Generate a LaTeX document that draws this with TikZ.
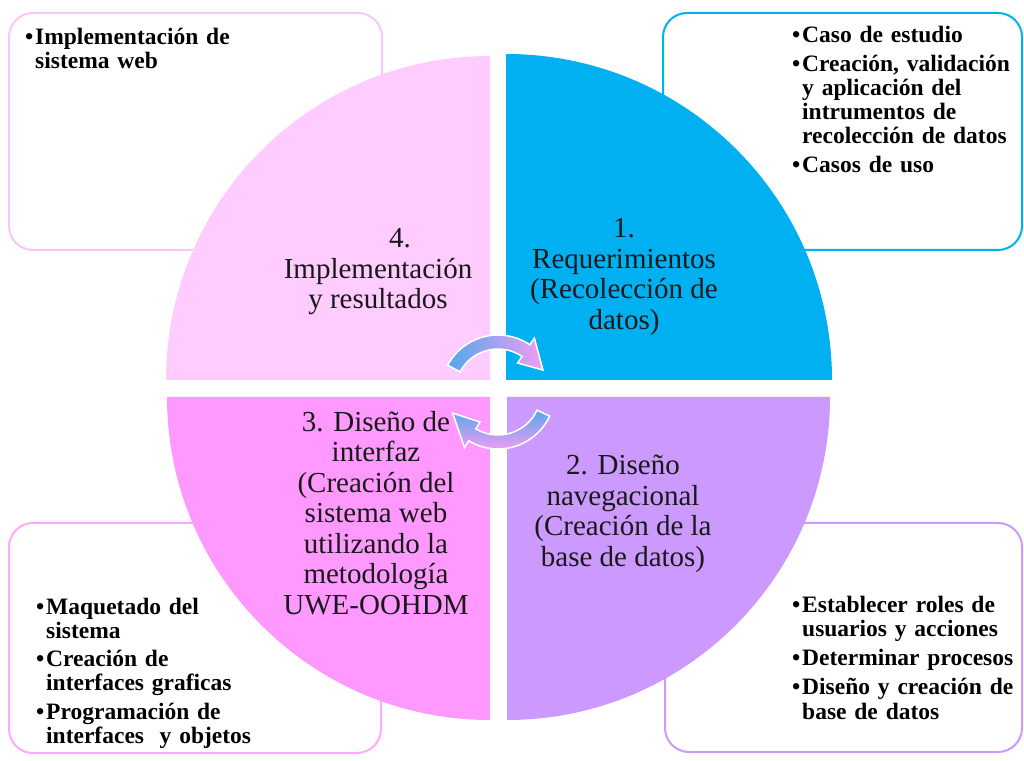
\documentclass[tikz,border=0pt]{standalone}
\usepackage{fontspec}
\setmainfont{Liberation Serif}
\definecolor{cTL}{HTML}{FFCCFF}
\definecolor{cTR}{HTML}{00B0F0}
\definecolor{cBL}{HTML}{FF99FF}
\definecolor{cBR}{HTML}{CC99FF}
\definecolor{cTLb}{HTML}{F8C8F8}
\definecolor{cBLb}{HTML}{FFAAFF}
\definecolor{arrB}{HTML}{55A8EC}
\definecolor{arrP}{HTML}{F09CF2}
\newcommand\bulmark{\makebox[10pt][l]{\textbullet}}
\newcommand\bulind{\hspace*{10pt}}
\begin{document}
\begin{tikzpicture}[x=1pt,y=1pt,
  boxst/.style={rounded corners=24pt, fill=white, line width=2pt},
  bultext/.style={anchor=base west, inner sep=0pt, align=left, text width=260pt,
    font=\fontsize{23.5}{24}\selectfont\bfseries},
  qtext/.style={inner sep=0pt, align=center, text=black!90,
    font=\fontsize{29}{30.5}\selectfont},
  arrowst/.style={draw=white, line width=1.5pt}]
\useasboundingbox (0,0) rectangle (1024,760);
\fill[white] (0,0) rectangle (1024,760);
% side boxes
\draw[boxst, draw=cTLb] (9,510) rectangle (382,747);
\draw[boxst, draw=cTR] (663,510) rectangle (1022,747);
\draw[boxst, draw=cBLb] (9,7) rectangle (381,237);
\draw[boxst, draw=cBR] (665,8) rectangle (1022,237);
% quadrants
\fill[cTL] (490,380) -- (166,380) arc[start angle=180,end angle=90,radius=324] -- cycle;
\fill[cTR] (506,380) -- (506,706) arc[start angle=90,end angle=0,radius=326] -- cycle;
\fill[cBL] (490,363) -- (167,363) arc[start angle=180,end angle=270,radius=323] -- cycle;
\fill[cBR] (507,363) -- (830,363) arc[start angle=0,end angle=-90,radius=323] -- cycle;
% cycle arrows
\begin{scope}[shift={(498,368)}]
\shadedraw[arrowst, left color=arrB, right color=arrP]
  (152:57) arc[start angle=152,end angle=56,radius=57] -- (56:65) -- (26:50)
  -- (56:35) -- (56:43) arc[start angle=56,end angle=152,radius=43] -- cycle;
\shadedraw[arrowst, top color=arrB, bottom color=arrP]
  (-25:57) arc[start angle=-25,end angle=-121,radius=57] -- (-121:65) -- (-155:50)
  -- (-121:35) -- (-121:43) arc[start angle=-121,end angle=-25,radius=43] -- cycle;
\end{scope}
% box texts
\node[bultext] (tTL) at (25,715) {\bulmark Implementación de\\\bulind sistema web};
\node[bultext] (tTR) at (792,717) {\bulmark Caso de estudio\\[5pt]\bulmark Creación, validación\\\bulind y aplicación del\\\bulind intrumentos de\\\bulind recolección de datos\\[5pt]\bulmark Casos de uso};
\node[bultext] (tBL) at (36,146) {\bulmark Maquetado del\\\bulind sistema\\[4.5pt]\bulmark Creación de\\\bulind interfaces graficas\\[4.5pt]\bulmark Programación de\\\bulind interfaces\ \ y objetos};
\node[bultext] (tBR) at (792,147) {\bulmark Establecer roles de\\\bulind usuarios y acciones\\[5pt]\bulmark Determinar procesos\\[5pt]\bulmark Diseño y creación de\\\bulind base de datos};
% quadrant texts
\node[qtext] (q4) at (378,488) {\hspace*{44pt}4.\\Implementación\\y resultados};
\node[qtext] (q1) at (624,483) {1.\\Requerimientos\\(Recolección de\\datos)};
\node[qtext] (q2) at (623,246) {2. Diseño\\navegacional\\(Creación de la\\base de datos)};
\node[qtext] (q3) at (376,247) {3. Diseño de\\interfaz\hspace*{57pt}\\(Creación del\\sistema web\\utilizando la\\metodología\\UWE-OOHDM};
\end{tikzpicture}
\end{document}
